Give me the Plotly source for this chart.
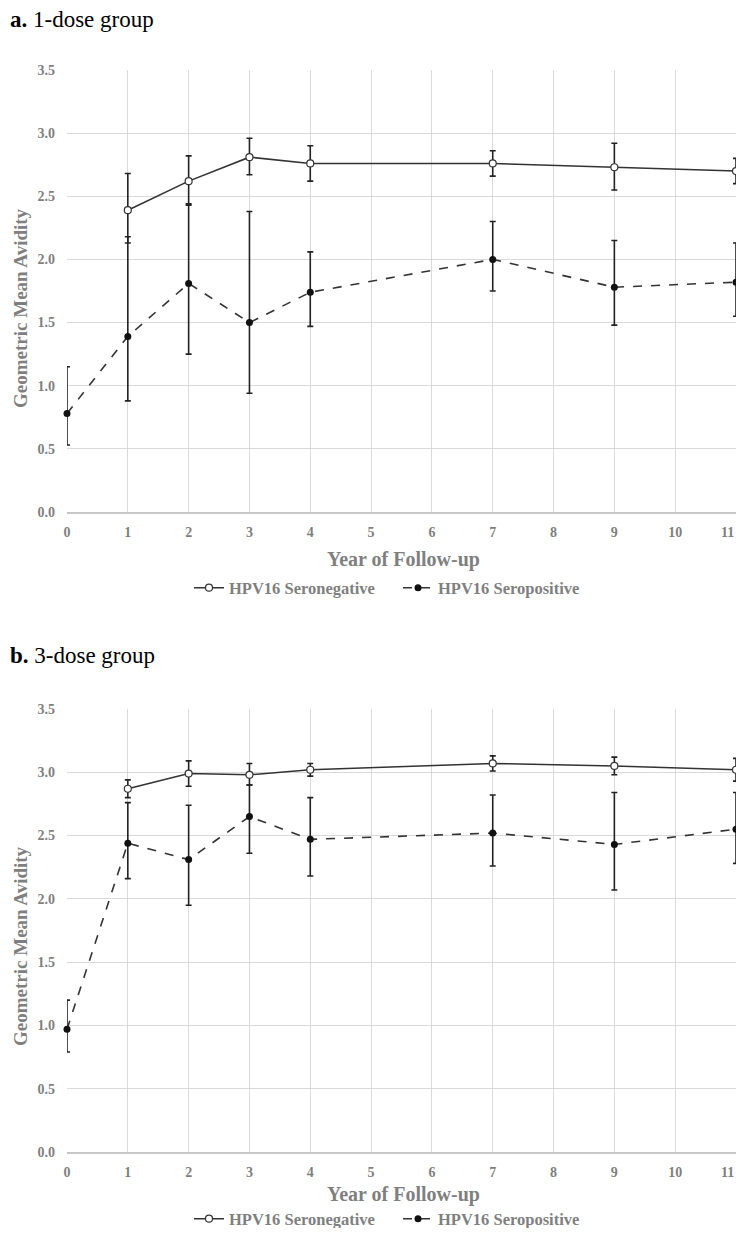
import plotly.graph_objects as go

# --- data ---
years_neg = [1, 2, 3, 4, 7, 9, 11]
years_pos = [0, 1, 2, 3, 4, 7, 9, 11]

# panel a: 1-dose group
a_neg = [2.39, 2.62, 2.81, 2.76, 2.76, 2.73, 2.70]
a_neg_hi = [2.68, 2.82, 2.96, 2.90, 2.86, 2.92, 2.80]
a_neg_lo = [2.13, 2.43, 2.67, 2.62, 2.66, 2.55, 2.60]
a_pos = [0.78, 1.39, 1.81, 1.50, 1.74, 2.00, 1.78, 1.82]
a_pos_hi = [1.15, 2.18, 2.44, 2.38, 2.06, 2.30, 2.15, 2.13]
a_pos_lo = [0.53, 0.88, 1.25, 0.94, 1.47, 1.75, 1.48, 1.55]

# panel b: 3-dose group
b_neg = [2.87, 2.99, 2.98, 3.02, 3.07, 3.05, 3.02]
b_neg_hi = [2.94, 3.09, 3.07, 3.07, 3.13, 3.12, 3.11]
b_neg_lo = [2.80, 2.89, 2.90, 2.97, 3.01, 2.98, 2.93]
b_pos = [0.97, 2.44, 2.31, 2.65, 2.47, 2.52, 2.43, 2.55]
b_pos_hi = [1.20, 2.76, 2.74, 2.90, 2.80, 2.82, 2.84, 2.84]
b_pos_lo = [0.79, 2.16, 1.95, 2.36, 2.18, 2.26, 2.07, 2.28]

x_ticks = list(range(0, 12))
x_labels = [str(v) for v in x_ticks]
y_ticks = [0.0, 0.5, 1.0, 1.5, 2.0, 2.5, 3.0, 3.5]

# the page body has an 8px margin, so the figure is made smaller to fit the window
PAD = 8
W, H = 744 - 2 * PAD, 1236 - 2 * PAD
GREY = "#7f7f7f"
DARK = "#333333"
SERIF = "Liberation Serif, Times New Roman, serif"


def px(x):
    return min(max((x - PAD) / W, 0), 1)


def py(y):
    return min(max(1 - (y - PAD) / H, 0), 1)


def err(vals, hi, lo):
    return dict(type="data", symmetric=False,
                array=[h - v for h, v in zip(hi, vals)],
                arrayminus=[v - l for v, l in zip(vals, lo)],
                color="#222222", thickness=1.6, width=3)


fig = go.Figure()

panels = [
    ("", "", "legend", (a_neg, a_neg_hi, a_neg_lo), (a_pos, a_pos_hi, a_pos_lo)),
    ("2", "2", "legend2", (b_neg, b_neg_hi, b_neg_lo), (b_pos, b_pos_hi, b_pos_lo)),
]
for xs, ys, leg, neg, pos in panels:
    fig.add_trace(go.Scatter(
        x=years_neg, y=neg[0], xaxis="x" + xs, yaxis="y" + ys, legend=leg,
        name="HPV16 Seronegative", mode="lines+markers", cliponaxis=False,
        line=dict(color=DARK, width=1.6),
        marker=dict(symbol="circle", size=7, color="white",
                    line=dict(color=DARK, width=1.2)),
        error_y=err(*neg)))
    fig.add_trace(go.Scatter(
        x=years_pos, y=pos[0], xaxis="x" + xs, yaxis="y" + ys, legend=leg,
        name="HPV16 Seropositive", mode="lines+markers", cliponaxis=False,
        line=dict(color=DARK, width=1.6, dash="dash"),
        marker=dict(symbol="circle", size=7, color="#111111"),
        error_y=err(*pos)))

tickfont = dict(family=SERIF, size=14, color=GREY, weight="bold")
x_dom = [px(67), px(736)]
# last label sits on the page edge, so it is drawn as an annotation pulled inside
xax = dict(range=[0, 11], tickvals=x_ticks, ticktext=x_labels[:-1] + [""],
           domain=x_dom, automargin=False,
           showgrid=True, gridcolor="#d9d9d9", gridwidth=1,
           showline=True, linecolor="#c8c8c8", linewidth=1.5, zeroline=False,
           ticks="", ticklabelstandoff=6, tickfont=tickfont)
yax = dict(range=[0, 3.5], tickvals=y_ticks, tickformat=".1f", automargin=False,
           showgrid=True, gridcolor="#d9d9d9", gridwidth=1,
           showline=False, zeroline=False, ticks="", ticklabelstandoff=11,
           tickfont=tickfont)

legend_style = dict(orientation="h", xanchor="center", yanchor="middle",
                    x=px(398), font=dict(family=SERIF, size=16.5, color=GREY, weight="bold"),
                    bgcolor="rgba(0,0,0,0)", itemwidth=30, tracegroupgap=0,
                    entrywidth=164, entrywidthmode="pixels")

fig.update_layout(
    width=W, height=H, margin=dict(l=0, r=0, t=0, b=0, autoexpand=False),
    plot_bgcolor="white", paper_bgcolor="white",
    xaxis=dict(xax, anchor="y"),
    yaxis=dict(yax, anchor="x", domain=[py(512), py(70)]),
    xaxis2=dict(xax, anchor="y2"),
    yaxis2=dict(yax, anchor="x2", domain=[py(1152), py(709)]),
    legend=dict(legend_style, y=py(588)),
    legend2=dict(legend_style, y=py(1219)),
)

titles = [("<b>a.</b> 1-dose group", 20, 308, 560, "y"),
          ("<b>b.</b> 3-dose group", 656, 946, 1194, "y2")]
for txt, ty, ymid, xt, yref in titles:
    fig.add_annotation(text=txt, xref="paper", yref="paper", x=px(8), y=py(ty),
                       xanchor="left", yanchor="middle", showarrow=False,
                       font=dict(family=SERIF, size=23, color="black"))
    fig.add_annotation(text="<b>Geometric Mean Avidity</b>", xref="paper", yref="paper",
                       x=px(20), y=py(ymid), textangle=-90, showarrow=False,
                       xanchor="center", yanchor="middle",
                       font=dict(family=SERIF, size=19, color=GREY))
    fig.add_annotation(text="<b>Year of Follow-up</b>", xref="paper", yref="paper",
                       x=px(404), y=py(xt), showarrow=False,
                       xanchor="center", yanchor="middle",
                       font=dict(family=SERIF, size=20, color=GREY))
    fig.add_annotation(text=x_labels[-1], xref="paper", yref=yref + " domain",
                       x=1, y=0, xanchor="right", yanchor="top", yshift=-11,
                       showarrow=False, font=tickfont)

fig.write_html("out.html")
